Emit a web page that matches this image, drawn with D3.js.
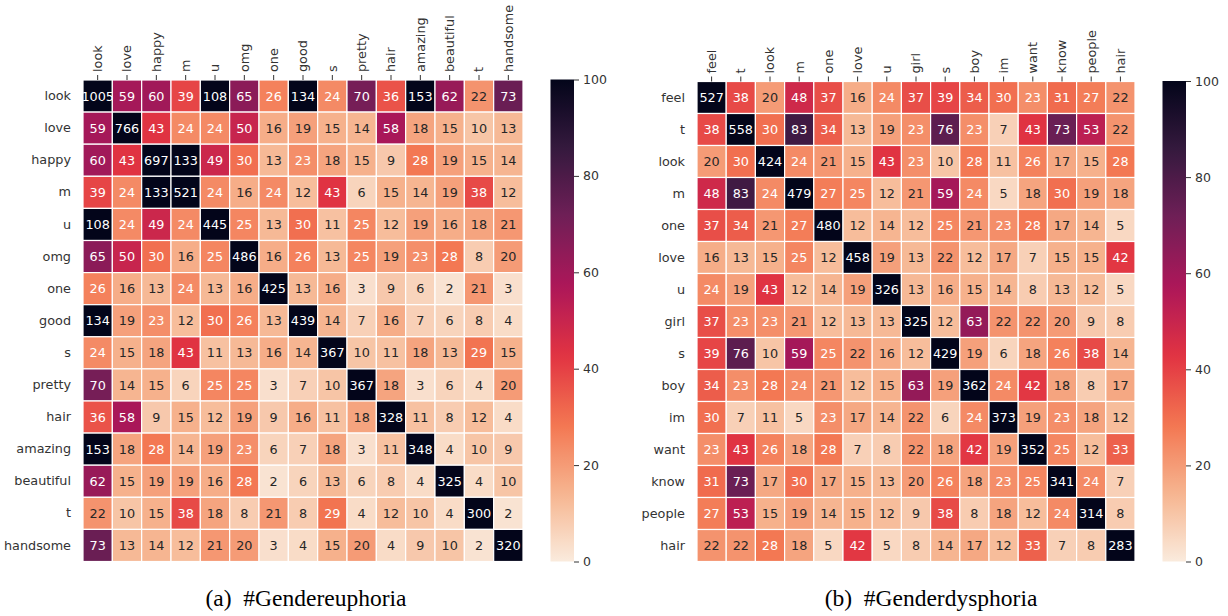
<!DOCTYPE html>
<html>
<head>
<meta charset="utf-8">
<script src="https://cdn.jsdelivr.net/npm/d3@7/dist/d3.min.js"></script>
<style>
  html, body { margin: 0; padding: 0; background: #fff; }
  svg { display: block; }
  text { font-family: "DejaVu Sans", sans-serif; }
  text.caption { font-family: "Liberation Serif", "Times New Roman", serif; }
</style>
</head>
<body>
<svg id="chart" width="1228" height="616"></svg>
<script>
// ---------------- DATA ----------------
const euphoriaLabels = ["look","love","happy","m","u","omg","one","good","s","pretty","hair","amazing","beautiful","t","handsome"];
const euphoriaValues = [
  [1005,59,60,39,108,65,26,134,24,70,36,153,62,22,73],
  [59,766,43,24,24,50,16,19,15,14,58,18,15,10,13],
  [60,43,697,133,49,30,13,23,18,15,9,28,19,15,14],
  [39,24,133,521,24,16,24,12,43,6,15,14,19,38,12],
  [108,24,49,24,445,25,13,30,11,25,12,19,16,18,21],
  [65,50,30,16,25,486,16,26,13,25,19,23,28,8,20],
  [26,16,13,24,13,16,425,13,16,3,9,6,2,21,3],
  [134,19,23,12,30,26,13,439,14,7,16,7,6,8,4],
  [24,15,18,43,11,13,16,14,367,10,11,18,13,29,15],
  [70,14,15,6,25,25,3,7,10,367,18,3,6,4,20],
  [36,58,9,15,12,19,9,16,11,18,328,11,8,12,4],
  [153,18,28,14,19,23,6,7,18,3,11,348,4,10,9],
  [62,15,19,19,16,28,2,6,13,6,8,4,325,4,10],
  [22,10,15,38,18,8,21,8,29,4,12,10,4,300,2],
  [73,13,14,12,21,20,3,4,15,20,4,9,10,2,320]
];
const dysphoriaLabels = ["feel","t","look","m","one","love","u","girl","s","boy","im","want","know","people","hair"];
const dysphoriaValues = [
  [527,38,20,48,37,16,24,37,39,34,30,23,31,27,22],
  [38,558,30,83,34,13,19,23,76,23,7,43,73,53,22],
  [20,30,424,24,21,15,43,23,10,28,11,26,17,15,28],
  [48,83,24,479,27,25,12,21,59,24,5,18,30,19,18],
  [37,34,21,27,480,12,14,12,25,21,23,28,17,14,5],
  [16,13,15,25,12,458,19,13,22,12,17,7,15,15,42],
  [24,19,43,12,14,19,326,13,16,15,14,8,13,12,5],
  [37,23,23,21,12,13,13,325,12,63,22,22,20,9,8],
  [39,76,10,59,25,22,16,12,429,19,6,18,26,38,14],
  [34,23,28,24,21,12,15,63,19,362,24,42,18,8,17],
  [30,7,11,5,23,17,14,22,6,24,373,19,23,18,12],
  [23,43,26,18,28,7,8,22,18,42,19,352,25,12,33],
  [31,73,17,30,17,15,13,20,26,18,23,25,341,24,7],
  [27,53,15,19,14,15,12,9,38,8,18,12,24,314,8],
  [22,22,28,18,5,42,5,8,14,17,12,33,7,8,283]
];
const colorbarTicks = [0,20,40,60,80,100];
const captions = ["(a)\u00a0 #Gendereuphoria", "(b)\u00a0 #Genderdysphoria"];
const colorDomain = [0, 100];

// ---------------- COLOURS (seaborn rocket_r approximation) ----------------
const rocketStops = ["#03051a","#35193e","#701f57","#ad1759","#e13342","#f37651","#f6b48f","#faebdd"];
const rocketR = d3.piecewise(d3.interpolateRgb, rocketStops.slice().reverse());
const color = d3.scaleSequential(rocketR).domain(colorDomain).clamp(true);

const svg = d3.select("#chart");
const labelColor = "#333333";

function drawHeatmap(cfg) {
  const g = svg.append("g");
  const x = d3.scaleBand().domain(cfg.labels).range([cfg.x0, cfg.x1]);
  const y = d3.scaleBand().domain(cfg.labels).range([cfg.y0, cfg.y1]);

  const cells = [];
  cfg.values.forEach((row, i) => row.forEach((v, j) => cells.push({r: cfg.labels[i], c: cfg.labels[j], v})));

  g.selectAll("rect.cell").data(cells).enter().append("rect")
    .attr("class", "cell")
    .attr("x", d => x(d.c)).attr("y", d => y(d.r))
    .attr("width", x.bandwidth()).attr("height", y.bandwidth())
    .attr("fill", d => color(d.v))
    .attr("stroke", "#fff").attr("stroke-width", 1.2);

  g.selectAll("text.ann").data(cells).enter().append("text")
    .attr("class", "ann")
    .attr("x", d => x(d.c) + x.bandwidth() / 2)
    .attr("y", d => y(d.r) + y.bandwidth() / 2)
    .attr("dy", "0.36em")
    .attr("text-anchor", "middle")
    .attr("font-size", "12.8px")
    .attr("fill", d => d.v >= 23 ? "#ffffff" : "#262626")
    .text(d => d.v);

  // top axis (columns)
  const ax = g.append("g").attr("transform", `translate(0,${cfg.y0})`)
    .call(d3.axisTop(x).tickSize(5).tickPadding(0));
  ax.select(".domain").remove();
  ax.selectAll(".tick line").attr("stroke", labelColor).attr("stroke-width", 1);
  ax.selectAll(".tick text")
    .attr("transform", "rotate(-90)")
    .attr("x", 8).attr("y", 0).attr("dy", "0.35em")
    .attr("text-anchor", "start")
    .attr("font-size", "12.8px")
    .attr("fill", labelColor);

  // left axis (rows)
  const ay = g.append("g").attr("transform", `translate(${cfg.x0},0)`)
    .call(d3.axisLeft(y).tickSize(0).tickPadding(12));
  ay.select(".domain").remove();
  ay.selectAll(".tick text").attr("font-size", "12.8px").attr("fill", labelColor);

  // colorbar
  const cb = svg.append("g");
  const cy = d3.scaleLinear().domain(colorDomain).range([cfg.y1, cfg.cbTop]);
  const gradId = "grad" + cfg.id;
  const grad = svg.append("defs").append("linearGradient")
    .attr("id", gradId).attr("x1", "0").attr("y1", "1").attr("x2", "0").attr("y2", "0");
  d3.range(0, 101, 2).forEach(t => {
    grad.append("stop").attr("offset", (t / 100)).attr("stop-color", color(t));
  });
  cb.append("rect")
    .attr("x", cfg.cbX).attr("y", cy(100))
    .attr("width", cfg.cbW).attr("height", cy(0) - cy(100))
    .attr("fill", `url(#${gradId})`);
  const acb = cb.append("g").attr("transform", `translate(${cfg.cbX + cfg.cbW},0)`)
    .call(d3.axisRight(cy).tickValues(colorbarTicks).tickSize(5).tickPadding(4));
  acb.select(".domain").remove();
  acb.selectAll(".tick line").attr("stroke", labelColor);
  acb.selectAll(".tick text").attr("font-size", "12.5px").attr("fill", labelColor);

  // caption
  svg.append("text")
    .attr("class", "caption")
    .attr("x", cfg.capX).attr("y", 606)
    .attr("text-anchor", "middle")
    .style("font-family", "'Liberation Serif', 'Times New Roman', serif")
    .attr("font-size", "23.5px")
    .attr("fill", "#000")
    .text(cfg.caption);
}

drawHeatmap({
  id: "a", labels: euphoriaLabels, values: euphoriaValues,
  x0: 83, x1: 523, y0: 80, y1: 561.5,
  cbX: 550.5, cbW: 23.5, cbTop: 79.5,
  capX: 306, caption: captions[0]
});
drawHeatmap({
  id: "b", labels: dysphoriaLabels, values: dysphoriaValues,
  x0: 697, x1: 1135, y0: 81.5, y1: 561.5,
  cbX: 1162.5, cbW: 23.5, cbTop: 81,
  capX: 931, caption: captions[1]
});
</script>
</body>
</html>
